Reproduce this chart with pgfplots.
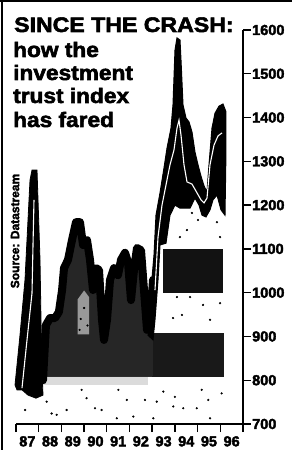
\documentclass[border=0pt]{standalone}
\usepackage{fontspec}
\setmainfont{Liberation Sans}[BoldFeatures={FakeBold=2.5}]
\usepackage{graphicx}
\usepackage{pgfplots}
\pgfplotsset{compat=1.18}
\newcommand{\tfont}{\fontsize{21}{23}\bfseries\selectfont}
\begin{document}
\begin{tikzpicture}[x=1pt,y=1pt]
\path[use as bounding box] (0,0) rectangle (292,450);
\begin{axis}[
  at={(16pt,26pt)}, anchor=south west, width=227pt, height=394pt, scale only axis,
  xmin=1987, xmax=1997, ymin=700, ymax=1600,
  clip=false,
  axis x line*=bottom, axis y line*=right,
  axis line style={line width=1.4pt, -},
  xtick={1987.5,1988.5,...,1996.5},
  xticklabels={87,88,89,90,91,92,93,94,95,96},
  minor xtick={1987,1988,...,1997},
  ytick={700,800,...,1600},
  tick align=outside,
  major tick length=8pt, minor tick length=8pt,
  major x tick style={draw=none},
  minor x tick style={line width=1.4pt, black},
  ytick style={line width=1.4pt, black},
  ticklabel style={font=\fontsize{14.5}{15}\bfseries\selectfont, inner sep=1pt},
  xticklabel style={yshift=-3pt},
  /pgf/number format/assume math mode=true,
  /pgf/number format/1000 sep={},
]
% halftone bands
\addplot[draw=none, fill=gray!28] coordinates {(1988.06,790) (1992.8,790) (1992.8,812) (1988.06,812)} -- cycle;
\addplot[draw=none, fill=black!82] coordinates {(1988.06,808) (1993.0,808) (1993.0,908) (1988.06,908)} -- cycle;
\addplot[draw=none, fill=black!90] coordinates {(1993.0,808) (1996.16,808) (1996.16,908) (1993.0,908)} -- cycle;
\addplot[draw=none, fill=black!93] coordinates {(1993.48,1000) (1996.12,1000) (1996.12,1100) (1993.48,1100)} -- cycle;
% dark shading under the 1988-1993 line
\addplot[draw=none, fill=black!85] coordinates {
(1988.189,810) (1988.320,926) (1988.500,942) (1988.720,942) (1988.890,956)
(1989.030,1006) (1989.115,1056) (1989.291,1075) (1989.467,1120) (1989.643,1161) (1989.819,1161)
(1989.952,1109) (1990.128,1120) (1990.260,1075) (1990.392,1006) (1990.524,1056) (1990.656,1052)
(1990.789,938) (1990.877,892) (1991.009,938) (1991.141,1029) (1991.317,1056) (1991.493,1040)
(1991.626,1075) (1991.802,1091) (1991.934,1070) (1992.066,983) (1992.198,1052) (1992.330,1102)
(1992.507,1097) (1992.639,1006) (1992.771,915) (1992.903,926) (1993.035,1029) (1993.035,810)} -- cycle;
% light patch inside the 1989 column
\addplot[draw=none, fill=black!40] coordinates {(1989.72,905) (1990.22,905) (1990.22,990) (1990.00,1005) (1989.72,985)} -- cycle;
% first spike
\addplot[fill=black, draw=black, line width=0.8pt] coordinates {
(1986.956,789) (1987.176,903) (1987.396,1029) (1987.529,1166) (1987.617,1257) (1987.705,1280)
(1987.925,1280) (1987.969,1212) (1988.057,1075) (1988.101,938) (1988.145,823) (1988.189,766)
(1987.881,759) (1987.529,766) (1987.264,778) (1987.044,778)} -- cycle;
% main line 1988-1993
\addplot[black, line width=8pt, line join=round, line cap=round] coordinates {
(1988.189,800) (1988.320,926) (1988.500,942) (1988.720,942) (1988.890,956)
(1989.030,1006) (1989.115,1056) (1989.291,1075) (1989.467,1120) (1989.643,1161) (1989.819,1161)
(1989.952,1109) (1990.128,1120) (1990.260,1075) (1990.392,1006) (1990.524,1056) (1990.656,1052)
(1990.789,938) (1990.877,892) (1991.009,938) (1991.141,1029) (1991.317,1056) (1991.493,1040)
(1991.626,1075) (1991.802,1091) (1991.934,1070) (1992.066,983) (1992.198,1052) (1992.330,1102)
(1992.507,1097) (1992.639,1006) (1992.771,915) (1992.903,926) (1993.035,1029)};
% 1993-1996 band
\addplot[fill=black, draw=black, line width=1pt] coordinates {
(1992.815,903) (1992.947,1006) (1993.079,1086) (1993.167,1177) (1993.344,1228) (1993.520,1285)
(1993.652,1330) (1993.828,1376) (1993.916,1429) (1994.004,1554) (1994.093,1582) (1994.225,1577)
(1994.269,1531) (1994.357,1429) (1994.489,1399) (1994.621,1390) (1994.753,1367) (1994.885,1321)
(1995.018,1292) (1995.150,1266) (1995.282,1244) (1995.414,1230) (1995.502,1292) (1995.634,1376)
(1995.767,1410) (1995.943,1426) (1996.119,1431) (1996.251,1413) (1996.251,1326) (1996.207,1177)
(1996.031,1189) (1995.855,1223) (1995.678,1212) (1995.546,1189) (1995.370,1173) (1995.194,1177)
(1995.062,1200) (1994.885,1216) (1994.665,1193) (1994.225,1193) (1994.004,1200) (1993.784,1177)
(1993.608,1113) (1993.344,1109) (1993.256,1029) (1993.123,938) (1993.035,892)} -- cycle;
% white index lines
\addplot[white, line width=1.1pt] coordinates {
(1987.264,782) (1987.485,892) (1987.705,999) (1987.749,1109) (1987.793,1212)};
\addplot[white, line width=1.1pt] coordinates {
(1993.123,1006) (1993.256,1127) (1993.432,1200) (1993.608,1246) (1993.784,1292) (1993.960,1326)
(1994.093,1376) (1994.181,1394) (1994.269,1360) (1994.401,1292) (1994.533,1253) (1994.753,1248)
(1994.974,1228) (1995.150,1212) (1995.282,1205) (1995.414,1216) (1995.546,1292) (1995.722,1337)
(1995.899,1358) (1996.075,1365)};
% speckles
\addplot[only marks, mark=*, mark size=0.9pt, black] coordinates {
(1987.40,732) (1987.54,774) (1988.35,751) (1988.57,724) (1988.79,721) (1989.23,732)
(1989.89,778) (1990.11,759) (1990.48,736) (1990.77,732) (1991.44,713) (1991.51,778)
(1991.88,755) (1992.17,717) (1992.68,755) (1993.05,713) (1993.20,751) (1993.49,774)
(1993.93,740) (1994.00,762) (1994.37,736) (1994.96,736) (1995.18,778) (1995.55,713)
(1995.47,755) (1996.06,770)
(1994.09,990) (1994.31,949) (1994.67,990) (1995.24,972) (1995.55,938) (1995.99,976) (1993.92,942)
(1994.75,1182) (1995.02,1166) (1994.53,1143) (1995.85,1161) (1995.99,1127) (1994.22,1127)
(1989.85,940) (1990.00,965) (1990.15,925) (1989.80,915)};
\end{axis}
% frame
\draw[line width=1.5pt] (0,449.2) -- (292,449.2);
\draw[line width=1.5pt] (2.2,0) -- (2.2,450);
% title
\node[anchor=base west, inner sep=0pt] at (14,418) {\tfont\scalebox{1.1}[1]{SINCE THE CRASH:}};
\node[anchor=base west, inner sep=0pt] at (13,393) {\tfont\scalebox{1.08}[1]{how the}};
\node[anchor=base west, inner sep=0pt] at (13,370) {\tfont\scalebox{1.08}[1]{investment}};
\node[anchor=base west, inner sep=0pt] at (13,347) {\tfont\scalebox{1.08}[1]{trust index}};
\node[anchor=base west, inner sep=0pt] at (13,323) {\tfont\scalebox{1.08}[1]{has fared}};
\node[rotate=90, inner sep=0pt] at (15,219) {\fontsize{12}{13}\bfseries\selectfont Source: Datastream};
\end{tikzpicture}
\end{document}
